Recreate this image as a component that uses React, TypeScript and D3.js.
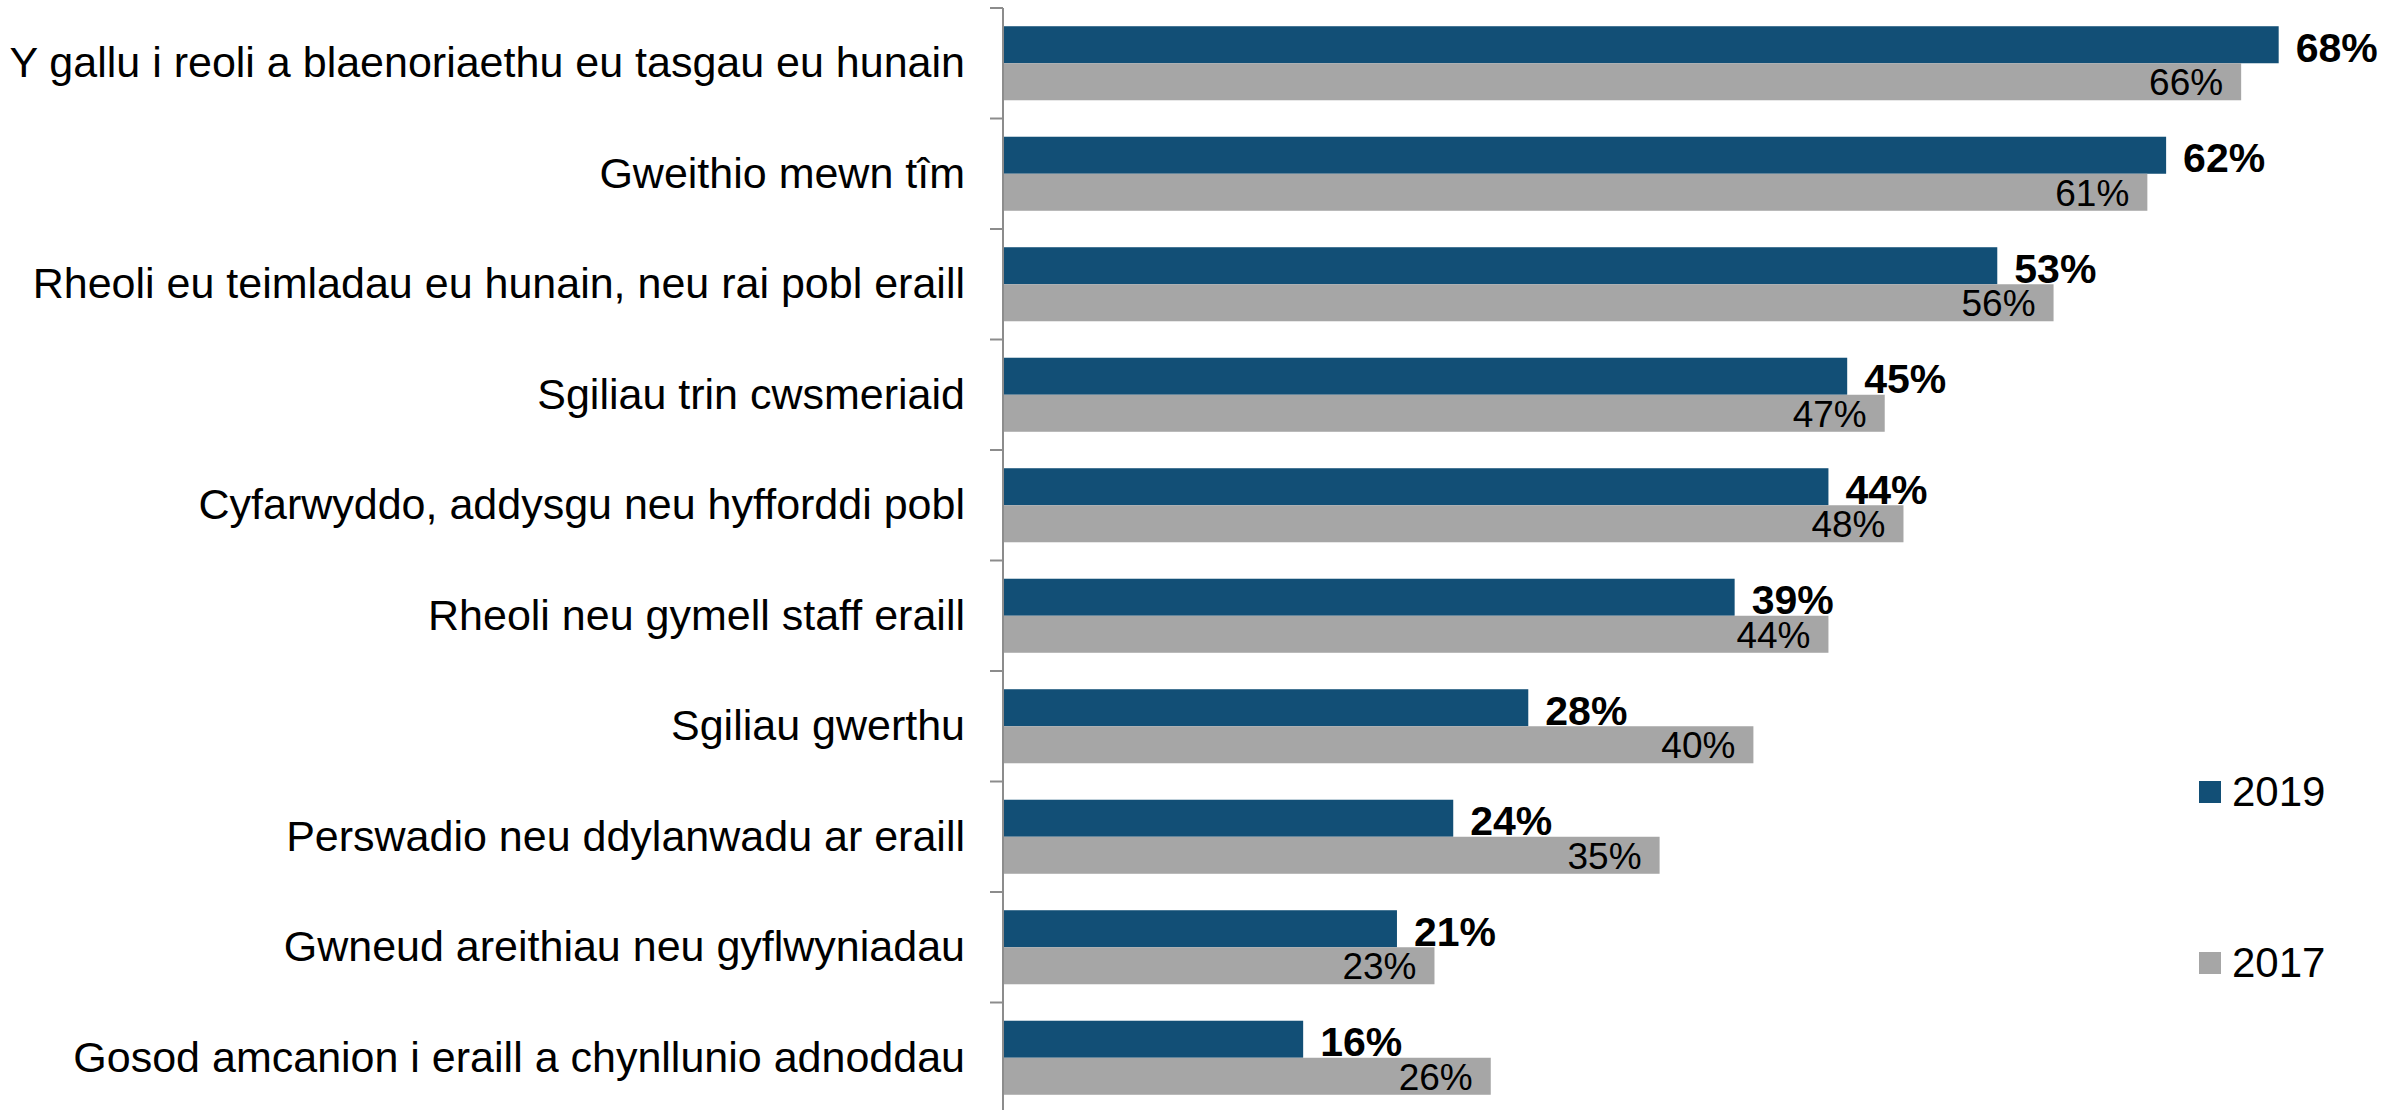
import React from "react";
import * as d3 from "d3";

const categories = [
  "Y gallu i reoli a blaenoriaethu eu tasgau eu hunain",
  "Gweithio mewn tîm",
  "Rheoli eu teimladau eu hunain, neu rai pobl eraill",
  "Sgiliau trin cwsmeriaid",
  "Cyfarwyddo, addysgu neu hyfforddi pobl",
  "Rheoli neu gymell staff eraill",
  "Sgiliau gwerthu",
  "Perswadio neu ddylanwadu ar eraill",
  "Gwneud areithiau neu gyflwyniadau",
  "Gosod amcanion i eraill a chynllunio adnoddau",
];
const values2019 = [68, 62, 53, 45, 44, 39, 28, 24, 21, 16];
const values2017 = [66, 61, 56, 47, 48, 44, 40, 35, 23, 26];
const seriesNames = ["2019", "2017"];

const W = 2405;
const H = 1110;
const FONT = "'Liberation Sans', Arial, sans-serif";
const C2019 = "#124F76";
const C2017 = "#A6A6A6";

export default function App() {
  const x0 = 1003;
  const x = d3.scaleLinear().domain([0, 75]).range([x0, x0 + 75 * 18.76]);
  const y = d3
    .scaleBand<string>()
    .domain(categories)
    .range([8, 8 + 10 * 110.5])
    .paddingInner(0.33)
    .paddingOuter(0.165);
  const bw = y.bandwidth();
  const half = bw / 2;
  const step = y.step();
  const tickYs = d3.range(categories.length + 1).map((i) => 8 + i * step);

  return (
    <svg
      width={W}
      height={H}
      style={{ position: "absolute", left: 0, top: 0, background: "#fff" }}
      fontFamily={FONT}
    >
      <rect x={0} y={0} width={W} height={H} fill="#fff" />
      {categories.map((c, i) => {
        const by = y(c)!;
        const center = by + bw / 2;
        return (
          <g key={c}>
            <text
              x={965}
              y={center + 14}
              fontSize={43}
              textAnchor="end"
              fill="#000"
            >
              {c}
            </text>
            <rect
              x={x(0)}
              y={by}
              width={x(values2019[i]) - x(0)}
              height={half}
              fill={C2019}
            />
            <rect
              x={x(0)}
              y={by + half}
              width={x(values2017[i]) - x(0)}
              height={half}
              fill={C2017}
            />
            <text
              x={x(values2019[i]) + 17}
              y={by + half - 1.5}
              fontSize={41}
              fontWeight="bold"
              fill="#000"
            >
              {values2019[i]}%
            </text>
            <text
              x={x(values2017[i]) - 18}
              y={by + bw - 5}
              fontSize={37}
              textAnchor="end"
              fill="#000"
            >
              {values2017[i]}%
            </text>
          </g>
        );
      })}
      <line x1={x0} x2={x0} y1={8} y2={H + 10} stroke="#8c8c8c" strokeWidth={2} />
      {tickYs.map((t, i) => (
        <line key={i} x1={990} x2={x0} y1={t} y2={t} stroke="#8c8c8c" strokeWidth={2} />
      ))}
      {seriesNames.map((s, i) => {
        const cy = i === 0 ? 792 : 963;
        return (
          <g key={s}>
            <rect x={2199} y={cy - 11} width={22} height={22} fill={i === 0 ? C2019 : C2017} />
            <text x={2232} y={cy + 14} fontSize={42} fill="#000">
              {s}
            </text>
          </g>
        );
      })}
    </svg>
  );
}
